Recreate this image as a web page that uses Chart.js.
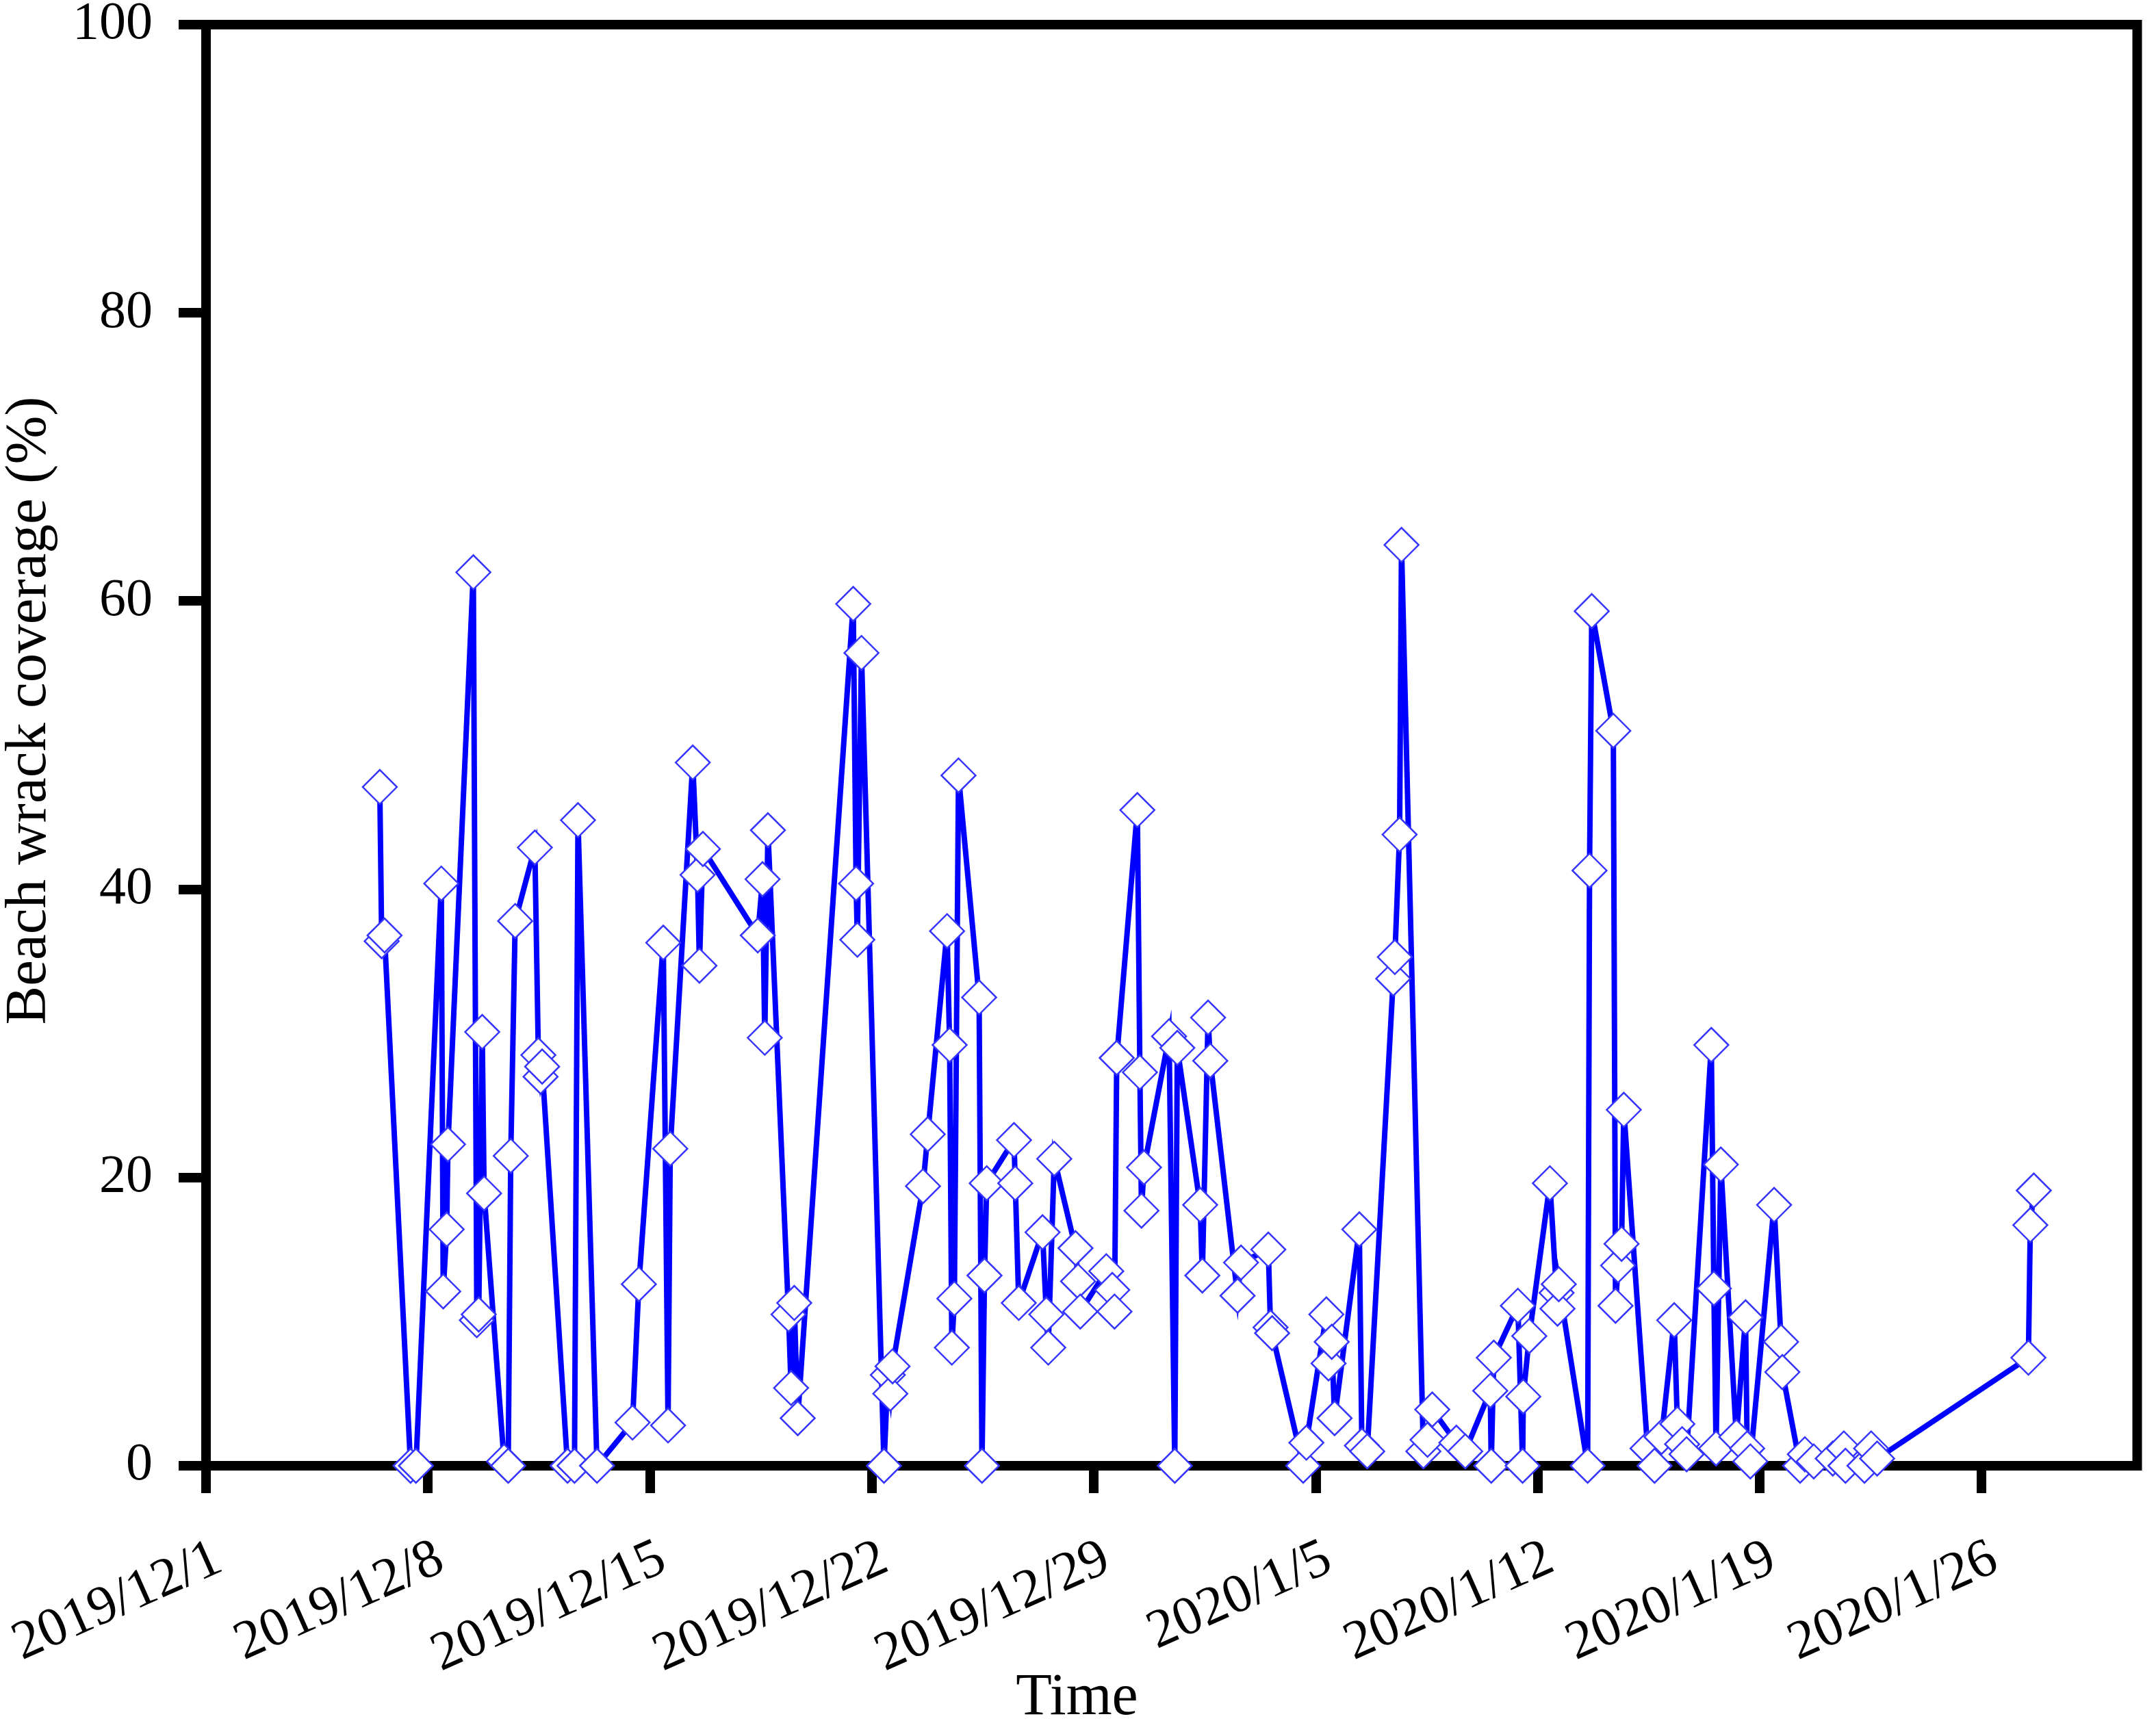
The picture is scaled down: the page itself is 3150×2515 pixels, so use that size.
<!DOCTYPE html>
<html>
<head>
<meta charset="utf-8">
<script src="https://cdn.jsdelivr.net/npm/chart.js@4.4.1/dist/chart.umd.min.js"></script>
<style>
  html, body { margin: 0; padding: 0; background: #fff; }
  #wrap { width: 3150px; height: 2515px; }
</style>
</head>
<body>
<div id="wrap"><canvas id="chart" width="3150" height="2515"></canvas></div>
<script>
// ── Data (x = days since 2019/12/1) ───────────────────────────────────────────
const dayOffsets = [
  5.48, 5.54, 5.63, 6.45, 6.62, 7.42, 7.48, 7.59, 7.63, 8.43,
  8.54, 8.6, 8.71, 8.77, 9.4, 9.53, 9.61, 9.75, 10.37, 10.48,
  10.55, 10.6, 11.4, 11.62, 11.73, 12.33, 13.45, 13.65, 14.42, 14.57,
  14.64, 15.35, 15.5, 15.56, 15.67, 17.4, 17.55, 17.62, 17.72, 18.37,
  18.45, 18.55, 18.66, 20.41, 20.5, 20.54, 20.67, 21.38, 21.5, 21.58,
  21.65, 22.61, 22.76, 23.37, 23.45, 23.52, 23.6, 23.73, 24.38, 24.47,
  24.55, 24.62, 25.48, 25.52, 25.63, 26.38, 26.5, 26.56, 26.75, 27.42,
  27.5, 27.57, 28.39, 28.58, 28.65, 28.72, 29.37, 29.45, 29.5, 29.58,
  30.37, 30.55, 30.63, 31.35, 31.42, 31.6, 31.67, 32.53, 32.64, 33.5,
  33.57, 33.62, 34.6, 34.7, 35.33, 35.4, 35.5, 35.59, 36.37, 36.45,
  36.62, 37.44, 37.49, 37.64, 37.7, 38.39, 38.52, 38.67, 39.43, 39.71,
  40.5, 40.53, 40.61, 41.37, 41.52, 41.54, 41.73, 42.38, 42.59, 42.62,
  42.66, 43.57, 43.63, 43.7, 44.38, 44.45, 44.53, 44.64, 44.71, 45.46,
  45.68, 45.9, 46.3, 46.4, 46.55, 46.69, 47.47, 47.55, 47.62, 47.77,
  48.26, 48.55, 48.6, 48.7, 49.45, 49.67, 49.71, 50.27, 50.42, 50.7,
  51.3, 51.65, 51.7, 52.3, 52.51, 52.7, 57.47, 57.53, 57.64
];

const coverage = [
  47.1, 36.4, 36.8, 0, 0, 40.4, 12.1, 16.4, 22.3, 62.0,
  10.1, 10.5, 30.1, 18.9, 0.3, 0, 21.5, 37.8, 42.9, 28.5,
  27.0, 27.7, 0, 0, 44.8, 0, 3.0, 12.6, 36.3, 2.8,
  22.0, 48.8, 41.0, 34.7, 42.8, 36.8, 40.7, 29.7, 44.1, 10.5,
  5.4, 11.3, 3.3, 59.8, 40.4, 36.5, 56.4, 0, 6.3, 5.0,
  6.9, 19.4, 23.0, 37.1, 29.2, 8.2, 11.6, 47.9, 32.5, 0,
  13.2, 19.6, 22.6, 19.6, 11.3, 16.2, 10.5, 8.2, 21.3, 15.1,
  12.8, 10.7, 13.5, 12.2, 10.7, 28.3, 45.5, 27.3, 17.7, 20.7,
  29.8, 0, 29.0, 18.1, 13.2, 31.1, 28.1, 11.8, 14.1, 15.0,
  9.6, 9.2, 0, 1.6, 10.5, 7.1, 8.6, 3.3, 16.4, 1.4,
  1.0, 33.8, 35.3, 43.8, 63.9, 1.0, 1.8, 3.9, 1.6, 1.0,
  5.2, 0, 7.5, 11.1, 0, 4.8, 9.0, 19.6, 12.0, 10.9,
  12.6, 0, 41.3, 59.3, 51.0, 11.1, 13.9, 15.4, 24.7, 1.2,
  0, 2.0, 10.1, 2.9, 1.5, 0.8, 29.2, 12.3, 1.2, 20.9,
  2.0, 10.3, 1.2, 0.3, 18.1, 8.6, 6.5, 0, 0.8, 0.3,
  0.5, 1.2, 0, 0, 1.2, 0.5, 7.5, 16.7, 19.1
];

const tickDays   = [0, 7, 14, 21, 28, 35, 42, 49, 56];
const tickLabels = ["2019/12/1", "2019/12/8", "2019/12/15", "2019/12/22", "2019/12/29",
                    "2020/1/5", "2020/1/12", "2020/1/19", "2020/1/26"];
const yTicks     = [0, 20, 40, 60, 80, 100];

const FONT = "'Liberation Serif', 'Times New Roman', serif";

// ── Frame round the plot area ─────────────────────────────────────────────────
const framePlugin = {
  id: "frame",
  beforeDatasetsDraw(chart) {
    const { ctx, chartArea: a } = chart;
    ctx.save();
    ctx.strokeStyle = "#000";
    ctx.lineWidth = 14;
    ctx.strokeRect(a.left, a.top, a.right - a.left, a.bottom - a.top);
    ctx.restore();
  }
};

// Axis titles sit a little off-centre in the original, so place them by hand
const axisTitles = {
  id: "axisTitles",
  afterDraw(chart) {
    const { ctx, chartArea: a } = chart;
    ctx.save();
    ctx.fillStyle = "#000";
    ctx.textAlign = "center";

    ctx.font = `86px ${FONT}`;
    ctx.textBaseline = "alphabetic";
    ctx.fillText("Time", a.left + 0.451 * (a.right - a.left), 2505);

    ctx.font = `85px ${FONT}`;
    ctx.textBaseline = "middle";
    ctx.translate(44, a.top + 0.476 * (a.bottom - a.top));
    ctx.rotate(-Math.PI / 2);
    ctx.fillText("Beach wrack coverage (%)", 0, 0);
    ctx.restore();
  }
};

const tickGrid = { display: true, drawOnChartArea: false, drawTicks: true, tickLength: 40, lineWidth: 14, color: "#000" };

new Chart(document.getElementById("chart").getContext("2d"), {
  type: "line",
  data: {
    datasets: [{
      data: dayOffsets.map((d, i) => ({ x: d, y: coverage[i] })),
      borderColor: "#0000ff",
      borderWidth: 8,
      tension: 0,
      pointStyle: "rectRot",
      pointRadius: 25,
      pointBackgroundColor: "#ffffff",
      pointBorderColor: "#3535ff",
      pointBorderWidth: 2.5,
      clip: false,
    }]
  },
  options: {
    responsive: false,
    animation: false,
    devicePixelRatio: 1,
    layout: { padding: { left: 0, top: 36, right: 24, bottom: 0 } },
    plugins: { legend: { display: false }, tooltip: { enabled: false } },
    scales: {
      x: {
        type: "linear",
        min: 0,
        max: 60.9,
        grid: tickGrid,
        border: { display: false },
        afterBuildTicks: s => { s.ticks = tickDays.map(v => ({ value: v })); },
        afterFit: s => { s.height = 373; s.paddingLeft = 0; s.paddingRight = 0; },
        ticks: {
          autoSkip: false,
          minRotation: 24,
          maxRotation: 24,
          padding: 49,
          labelOffset: 19,
          color: "#000",
          font: { family: FONT, size: 80 },
          callback: v => tickLabels[tickDays.indexOf(v)] ?? "",
        },
      },
      y: {
        min: 0,
        max: 100,
        grid: tickGrid,
        border: { display: false },
        afterBuildTicks: s => { s.ticks = yTicks.map(v => ({ value: v })); },
        afterFit: s => { s.width = 301; s.paddingTop = 0; s.paddingBottom = 0; },
        ticks: {
          padding: 38,
          color: "#000",
          font: { family: FONT, size: 78 },
        },
      },
    },
  },
  plugins: [framePlugin, axisTitles],
});
</script>
</body>
</html>
